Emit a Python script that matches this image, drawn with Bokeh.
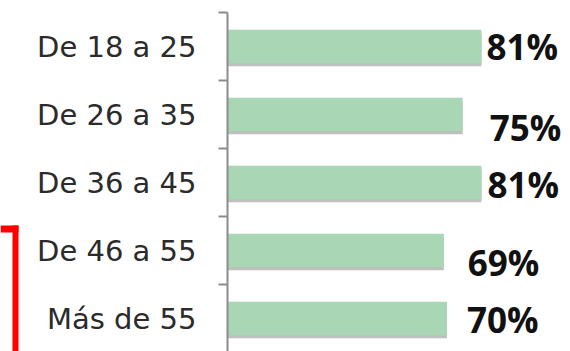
from bokeh.plotting import figure
from bokeh.layouts import row
from bokeh.models import Range1d, FixedTicker, ColumnDataSource, BoxAnnotation
from bokeh.transform import dodge
from bokeh.core.properties import value
from bokeh.embed import file_html
from bokeh.resources import INLINE

# data
categories = ["De 18 a 25", "De 26 a 35", "De 36 a 45", "De 46 a 55", "Más de 55"]
percentages = [81, 75, 81, 69, 70]
value_labels = ["81%", "75%", "81%", "69%", "70%"]

# label nudges (pixels), as in the original slide
label_dx = [5, 27, 6, 24, 20]
label_dy = [0, 13, 2, 12, 1]

n = len(categories)
ypos = [i + 0.5 for i in range(n)]
bounds = [float(i) for i in range(n + 1)]

src = ColumnDataSource(dict(y=ypos, v=percentages, lab=value_labels,
                            dx=label_dx, dy=label_dy))

# small side panel holding the red bracket mark-up
side = figure(width=26, height=351, output_backend="svg", toolbar_location=None,
              x_range=Range1d(0, 1), y_range=Range1d(0, 1),
              min_border=0)
side.outline_line_color = None
side.axis.visible = False
side.grid.visible = False
side.add_layout(BoxAnnotation(left=12, right=18, bottom=0, top=126,
                              left_units="screen", right_units="screen",
                              top_units="screen", bottom_units="screen",
                              fill_color="#ff0000", fill_alpha=1, line_color=None))
side.add_layout(BoxAnnotation(left=0, right=18, bottom=119, top=126,
                              left_units="screen", right_units="screen",
                              top_units="screen", bottom_units="screen",
                              fill_color="#ff0000", fill_alpha=1, line_color=None))

p = figure(width=544, height=351, output_backend="svg", toolbar_location=None,
           x_range=Range1d(0, 109.4), y_range=Range1d(4.985, 0),
           min_border_left=201, min_border_right=0, min_border_top=12,
           min_border_bottom=0)
p.outline_line_color = None
p.background_fill_color = "white"
p.border_fill_color = "white"
p.xgrid.visible = False
p.ygrid.visible = False
p.xaxis.visible = False

ax = p.yaxis[0]
ax.ticker = FixedTicker(ticks=ypos, minor_ticks=bounds)
ax.major_label_overrides = {y: c for y, c in zip(ypos, categories)}
ax.major_tick_line_color = None
ax.major_tick_out = 0
ax.major_tick_in = 0
ax.minor_tick_out = 9
ax.minor_tick_in = 0
ax.minor_tick_line_color = "#8c8c8c"
ax.minor_tick_line_width = 2
ax.axis_line_color = "#8c8c8c"
ax.axis_line_width = 2
ax.major_label_standoff = 22
ax.major_label_text_font = "DejaVu Sans"
ax.major_label_text_font_size = "29px"
ax.major_label_text_color = "#2b2b2b"

# shadow
p.hbar(y=dodge("y", 0.045, range=p.y_range), right="v", left=0, height=0.49,
       source=src, fill_color="#8a8a8a", fill_alpha=0.55, line_color=None)
# bars
p.hbar(y="y", right="v", left=0, height=0.49, source=src,
       fill_color="#a9d6b5", line_color=None)

p.text(x="v", y="y", text="lab", x_offset="dx", y_offset="dy", source=src,
       text_font=value("Open Sans"), text_font_style="bold",
       text_font_size="35px", text_color="#111111",
       text_align="left", text_baseline="middle")

layout = row(side, p, spacing=0)
open("out.html", "w").write(file_html(layout, INLINE))
